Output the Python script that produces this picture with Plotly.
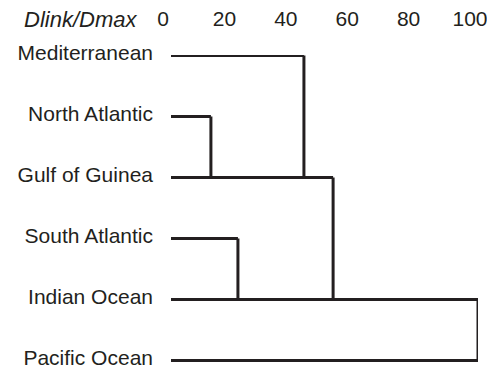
import plotly.graph_objects as go

# Leaves (top to bottom)
leaves = ["Mediterranean", "North Atlantic", "Gulf of Guinea",
          "South Atlantic", "Indian Ocean", "Pacific Ocean"]
# Merges: upper leaf index, lower leaf index, linkage distance (Dlink/Dmax x100)
merge_upper = [1, 0, 3, 2, 4]
merge_lower = [2, 2, 4, 4, 5]
merge_height = [13.0, 43.3, 21.8, 52.8, 100.0]

x_ticks = [0, 20, 40, 60, 80, 100]
x_title = "Dlink/Dmax"

INK = "#231f20"
FONT = "Liberation Sans, Arial, sans-serif"

# horizontal length of each leaf line = largest merge height involving it
leaf_len = [0.0] * len(leaves)
for u, l, h in zip(merge_upper, merge_lower, merge_height):
    leaf_len[u] = max(leaf_len[u], h)
    leaf_len[l] = max(leaf_len[l], h)

xs, ys = [], []
for i, L in enumerate(leaf_len):
    xs += [0, L, None]
    ys += [i, i, None]
for u, l, h in zip(merge_upper, merge_lower, merge_height):
    xs += [h, h, None]
    ys += [u, l, None]

fig = go.Figure(go.Scatter(x=xs, y=ys, mode="lines",
                           line=dict(color=INK, width=3),
                           cliponaxis=False, hoverinfo="skip",
                           showlegend=False))

# the page body has an 8px margin; size the figure to fill the rest of the window
OFF = 8
W, H = 495 - OFF, 367 - OFF
ml, mr, mt, mb = 171 - OFF, 17, 55 - OFF, 0
step = 61.0
pw, ph = W - ml - mr, H - mt - mb
y_top = -0.5 / step
fig.update_layout(
    width=W, height=H,
    margin=dict(l=ml, r=mr, t=mt, b=mb, autoexpand=False),
    paper_bgcolor="white", plot_bgcolor="white",
    font=dict(family=FONT, size=21, color=INK),
    xaxis=dict(range=[0, 100], side="top", tickvals=x_ticks,
               ticktext=[str(v) for v in x_ticks], automargin=False,
               showgrid=False, zeroline=False, showline=False,
               ticks="", ticklabelstandoff=24, ticklabelshift=-8,
               tickfont=dict(size=21)),
    yaxis=dict(range=[y_top + ph / step, y_top],
               tickvals=list(range(len(leaves))), automargin=False,
               ticktext=leaves, showgrid=False, zeroline=False,
               showline=False, ticks="", ticklabelstandoff=17,
               ticklabelshift=3, ticklabeloverflow="allow",
               tickfont=dict(size=21)),
    annotations=[dict(text=f"<i>{x_title}</i>", xref="paper", yref="paper",
                      x=(138 - OFF - ml) / pw, y=1 + (mt - (20 - OFF)) / ph,
                      xanchor="right", yanchor="middle", showarrow=False,
                      borderpad=0, font=dict(size=22, color=INK))],
)
fig.write_html("out.html")
